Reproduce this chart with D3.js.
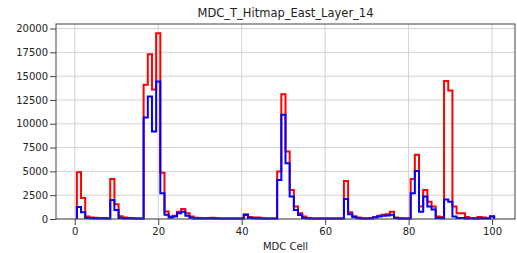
<!DOCTYPE html>
<html>
<head>
<meta charset="utf-8">
<script src="https://cdn.jsdelivr.net/npm/d3@7"></script>
<style>
  body { margin: 0; background: #fff; }
  text { font-family: "DejaVu Sans", sans-serif; fill: #222; }
</style>
</head>
<body>
<script>
var width = 517,
    height = 253;

// cells 1..100, hit counts
var cells = d3.range(1, 101);
var redHits = [
  4900, 2200, 250, 150, 120, 100, 100, 80, 4200, 1550,
  300, 150, 100, 80, 60, 50, 14100, 17300, 13600, 19500,
  4850, 800, 250, 350, 750, 1050, 600, 250, 120, 100,
  80, 100, 120, 90, 60, 50, 40, 40, 40, 50,
  500, 200, 150, 150, 80, 50, 40, 50, 5000, 13100,
  7100, 3050, 1300, 600, 250, 100, 50, 50, 50, 50,
  50, 50, 50, 50, 4000, 700, 300, 150, 80, 60,
  100, 200, 350, 450, 500, 750, 150, 80, 60, 50,
  4200, 6750, 1300, 3050, 1800, 1300, 250, 200, 14500, 13500,
  1300, 600, 600, 200, 100, 80, 200, 150, 100, 300
];
var blueHits = [
  1250, 700, 100, 80, 60, 60, 60, 60, 2000, 950,
  100, 40, 40, 40, 40, 40, 10650, 12850, 9200, 14450,
  2700, 450, 150, 250, 600, 750, 350, 120, 60, 40,
  40, 40, 40, 40, 40, 40, 40, 40, 40, 40,
  420, 100, 80, 60, 40, 40, 40, 40, 4100, 10950,
  5850, 2350, 950, 420, 100, 40, 40, 40, 40, 40,
  40, 40, 40, 40, 2100, 500, 200, 80, 50, 50,
  50, 150, 250, 330, 380, 450, 100, 40, 40, 40,
  2700, 5050, 750, 2350, 1300, 1000, 100, 80, 2050, 1800,
  250, 100, 100, 60, 50, 50, 50, 50, 50, 250
];
var xTicks = [0, 20, 40, 60, 80, 100];
var yTicks = [0, 2500, 5000, 7500, 10000, 12500, 15000, 17500, 20000];

var margin = {top: 24, right: 2, bottom: 34, left: 56};
var plotW = width - margin.left - margin.right,
    plotH = height - margin.top - margin.bottom;

var svg = d3.select("body")
    .append("svg")
    .attr("width", width)
    .attr("height", height);

var g = svg.append("g")
    .attr("transform", "translate(" + margin.left + "," + margin.top + ")");

// matplotlib-style 5% margins around the bin edges 0.5 .. 100.5
var x = d3.scaleLinear().domain([0.5 - 5, 100.5 + 5]).range([0, plotW]);
var y = d3.scaleLinear().domain([0, 19500 * 1.05]).range([plotH, 0]);

// grid
g.selectAll(".gx").data(xTicks).enter().append("line")
    .attr("x1", d => x(d)).attr("x2", d => x(d))
    .attr("y1", 0).attr("y2", plotH)
    .attr("stroke", "#d3d3d3").attr("stroke-width", 1);
g.selectAll(".gy").data(yTicks).enter().append("line")
    .attr("x1", 0).attr("x2", plotW)
    .attr("y1", d => y(d)).attr("y2", d => y(d))
    .attr("stroke", "#d3d3d3").attr("stroke-width", 1);

// step outline, like hist(histtype='step')
function stepPoints(vals) {
  var pts = [[cells[0] - 0.5, 0]];
  vals.forEach(function(v, i) { pts.push([cells[i] - 0.5, v]); });
  pts.push([cells[cells.length - 1] + 0.5, vals[vals.length - 1]]);
  pts.push([cells[cells.length - 1] + 0.5, 0]);
  return pts;
}
var line = d3.line()
    .x(d => x(d[0]))
    .y(d => y(d[1]))
    .curve(d3.curveStepAfter);

g.append("path").datum(stepPoints(redHits))
    .attr("d", line).attr("fill", "none")
    .attr("stroke", "red").attr("stroke-width", 2);
g.append("path").datum(stepPoints(blueHits))
    .attr("d", line).attr("fill", "none")
    .attr("stroke", "blue").attr("stroke-width", 2);

// axes
var xAxis = d3.axisBottom(x).tickValues(xTicks).tickSize(6).tickPadding(3).tickFormat(d3.format("d"));
var yAxis = d3.axisLeft(y).tickValues(yTicks).tickSize(6).tickPadding(2).tickFormat(d3.format("d"));

g.append("g").attr("transform", "translate(0," + plotH + ")").call(xAxis)
    .call(a => a.select(".domain").remove());
g.append("g").call(yAxis)
    .call(a => a.select(".domain").remove());
g.selectAll(".tick text").attr("font-size", 10).attr("font-family", "DejaVu Sans").attr("fill", "#333");
g.selectAll(".tick line").attr("stroke", "#444");

// frame
g.append("rect").attr("width", plotW).attr("height", plotH)
    .attr("fill", "none").attr("stroke", "#444").attr("stroke-width", 1);

svg.append("text")
    .attr("x", margin.left + plotW / 2).attr("y", 17)
    .attr("text-anchor", "middle").attr("font-size", 11.5)
    .text("MDC_T_Hitmap_East_Layer_14");

svg.append("text")
    .attr("x", margin.left + plotW / 2).attr("y", 250)
    .attr("text-anchor", "middle").attr("font-size", 10)
    .attr("fill", "#333")
    .text("MDC Cell");
</script>
</body>
</html>
